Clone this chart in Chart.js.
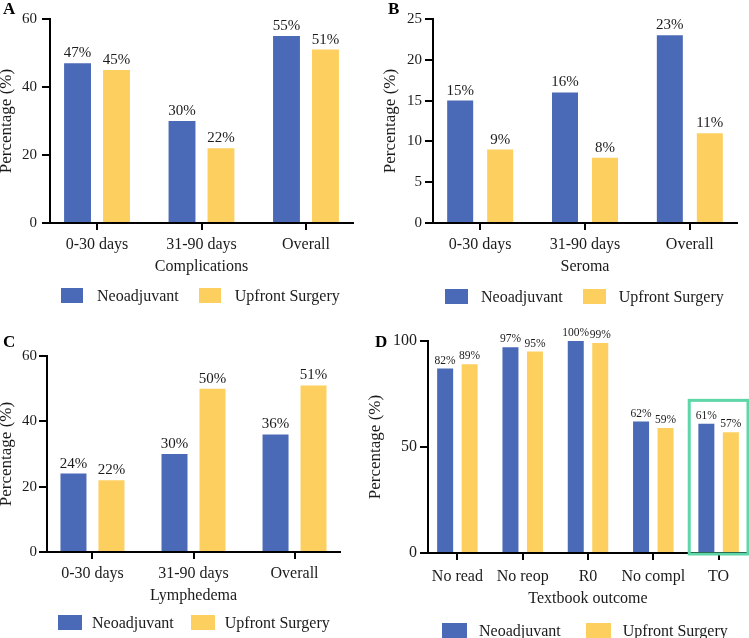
<!DOCTYPE html>
<html>
<head>
<meta charset="utf-8">
<script src="https://cdn.jsdelivr.net/npm/chart.js@4.4.1/dist/chart.umd.min.js"></script>
<style>
  html, body { margin: 0; padding: 0; background: #fff; overflow: hidden; }
  body { width: 749px; height: 638px; position: relative; font-family: 'Liberation Serif', serif; color: #1b1b1b; }
  canvas { position: absolute; }
  .legend { position: absolute; display: flex; align-items: center; height: 15px; font-size: 16px; line-height: 15px; white-space: nowrap; }
  .legend span.box { display: inline-block; height: 15px; }
</style>
</head>
<body>
<canvas id="chartA" width="375" height="320" style="left:0;top:0"></canvas>
<canvas id="chartB" width="374" height="320" style="left:375px;top:0"></canvas>
<canvas id="chartC" width="360" height="318" style="left:0;top:320px"></canvas>
<canvas id="chartD" width="389" height="318" style="left:360px;top:320px"></canvas>
<div class="legend" id="legA" style="left:61px;top:288px"></div>
<div class="legend" id="legB" style="left:445px;top:289px"></div>
<div class="legend" id="legC" style="left:58px;top:615px"></div>
<div class="legend" id="legD" style="left:442px;top:623px"></div>
<script>
// ---- data ----
const seriesNames = ['Neoadjuvant', 'Upfront Surgery'];
const periodLabels = ['0-30 days', '31-90 days', 'Overall'];

const complicationsNeo = [47, 30, 55];
const complicationsUp = [45, 22, 51];

const seromaNeo = [15, 16, 23];
const seromaUp = [9, 8, 11];

const lymphedemaNeo = [24, 30, 36];
const lymphedemaUp = [22, 50, 51];

const outcomeLabels = ['No read', 'No reop', 'R0', 'No compl', 'TO'];
const outcomeNeo = [87, 97, 100, 62, 61];
const outcomeUp = [89, 95, 99, 59, 57];
// printed labels in panel D (first one differs from its bar)
const outcomeNeoText = ['82%', '97%', '100%', '62%', '61%'];
const outcomeUpText = ['89%', '95%', '99%', '59%', '57%'];

const ticksA = [0, 20, 40, 60];
const ticksB = [0, 5, 10, 15, 20, 25];
const ticksC = [0, 20, 40, 60];
const ticksD = [0, 50, 100];

const blue = '#4a69b6';
const yellow = '#fdcf5f';
const ink = '#1b1b1b';

Chart.defaults.font.family = "'Liberation Serif', serif";
Chart.defaults.color = ink;

// value text on top of each bar
const barText = {
  id: 'barText',
  afterDatasetsDraw(chart, args, opts) {
    const ctx = chart.ctx;
    ctx.save();
    ctx.font = opts.size + "px 'Liberation Serif'";
    ctx.fillStyle = ink;
    ctx.textAlign = 'center';
    ctx.textBaseline = 'alphabetic';
    chart.data.datasets.forEach((ds, i) => {
      chart.getDatasetMeta(i).data.forEach((bar, j) => {
        const txt = ds.text ? ds.text[j] : ds.data[j] + '%';
        ctx.fillText(txt, bar.x, bar.y - opts.gap);
      });
    });
    ctx.restore();
  }
};

// panel letter
const tag = {
  id: 'tag',
  afterDraw(chart, args, opts) {
    const ctx = chart.ctx;
    ctx.save();
    ctx.font = "bold 17px 'Liberation Serif'";
    ctx.fillStyle = '#000';
    ctx.textBaseline = 'alphabetic';
    ctx.fillText(opts.text, opts.x, opts.y);
    ctx.restore();
  }
};

// green frame round one category (panel D)
const frame = {
  id: 'frame',
  afterDatasetsDraw(chart, args, opts) {
    const xs = chart.scales.x, ys = chart.scales.y;
    const cx = xs.getPixelForValue(opts.index);
    const half = (cx - xs.getPixelForValue(opts.index - 1)) * opts.width / 2;
    const top = ys.getPixelForValue(opts.top);
    const bottom = ys.getPixelForValue(0) + 1;
    const ctx = chart.ctx;
    ctx.save();
    ctx.strokeStyle = '#5dd6a8';
    ctx.lineWidth = 3;
    ctx.strokeRect(cx - half, top, half * 2, bottom - top);
    ctx.restore();
  }
};

function makePanel(id, p) {
  const edge = 0.45;
  return new Chart(document.getElementById(id), {
    type: 'bar',
    data: {
      labels: p.labels,
      datasets: [
        { label: seriesNames[0], data: p.neo, text: p.neoText, backgroundColor: blue,
          categoryPercentage: p.cat, barPercentage: p.bar },
        { label: seriesNames[1], data: p.up, text: p.upText, backgroundColor: yellow,
          categoryPercentage: p.cat, barPercentage: p.bar }
      ]
    },
    options: {
      responsive: false,
      animation: false,
      layout: { padding: { left: 0, right: p.padRight, top: p.padTop, bottom: p.padBottom } },
      plugins: {
        legend: { display: false },
        tooltip: { enabled: false },
        barText: { size: p.textSize, gap: p.textGap },
        tag: { text: p.tag, x: p.tagX, y: p.tagY },
        frame: p.frame || false
      },
      scales: {
        x: {
          grid: { drawOnChartArea: false, offset: false, tickLength: 7, color: '#000', lineWidth: 2 },
          border: { color: '#000', width: 2 },
          ticks: { font: { size: 16 }, padding: p.xPad, maxRotation: 0, minRotation: 0, autoSkip: false },
          title: { display: true, text: p.xTitle, font: { size: 16 }, padding: { top: 0, bottom: 1.4 } },
          afterBuildTicks: s => {
            s._startValue = -edge;
            s._valueRange = s.ticks.length - 1 + 2 * edge;
          },
          afterFit: s => { s.height = p.xHeight; }
        },
        y: {
          min: 0,
          max: p.yTicks[p.yTicks.length - 1],
          afterBuildTicks: s => { s.ticks = p.yTicks.map(v => ({ value: v })); },
          grid: { drawOnChartArea: false, tickLength: 8, color: '#000', lineWidth: 2 },
          border: { color: '#000', width: 2 },
          ticks: { font: { size: p.yFont }, padding: p.yPad },
          title: { display: true, text: 'Percentage (%)', font: { size: 17, lineHeight: 1 },
                   padding: { top: p.yTitlePad, bottom: 0 } },
          afterFit: s => { s.width = p.yWidth; }
        }
      }
    },
    plugins: [barText, tag, frame]
  });
}

function htmlLegend(chart, id, boxW, textGap, itemGap) {
  const el = document.getElementById(id);
  chart.data.datasets.forEach((ds, i) => {
    const box = document.createElement('span');
    box.className = 'box';
    box.style.width = boxW + 'px';
    box.style.background = ds.backgroundColor;
    const txt = document.createElement('span');
    txt.textContent = ds.label;
    txt.style.marginLeft = textGap + 'px';
    if (i < chart.data.datasets.length - 1) txt.style.marginRight = itemGap + 'px';
    el.appendChild(box);
    el.appendChild(txt);
  });
}

const chartA = makePanel('chartA', {
  labels: periodLabels, neo: complicationsNeo, up: complicationsUp, yTicks: ticksA,
  xTitle: 'Complications', tag: 'A', tagX: 3, tagY: 14,
  cat: 0.746, bar: 0.69, padTop: 19, padRight: 22, padBottom: 42, xHeight: 55, xPad: 5.4,
  yWidth: 50, yPad: 5, yFont: 15, yTitlePad: -1.5, textSize: 15, textGap: 6
});
const chartB = makePanel('chartB', {
  labels: periodLabels, neo: seromaNeo, up: seromaUp, yTicks: ticksB,
  xTitle: 'Seroma', tag: 'B', tagX: 13, tagY: 14,
  cat: 0.763, bar: 0.65, padTop: 19, padRight: 12, padBottom: 42, xHeight: 55, xPad: 5.4,
  yWidth: 58, yPad: 3, yFont: 15, yTitlePad: 7.5, textSize: 15, textGap: 6
});
const chartC = makePanel('chartC', {
  labels: periodLabels, neo: lymphedemaNeo, up: lymphedemaUp, yTicks: ticksC,
  xTitle: 'Lymphedema', tag: 'C', tagX: 3, tagY: 27,
  cat: 0.752, bar: 0.684, padTop: 36, padRight: 20, padBottom: 31, xHeight: 55, xPad: 5.4,
  yWidth: 47, yPad: 2, yFont: 15, yTitlePad: -1.5, textSize: 15, textGap: 6
});
const chartD = makePanel('chartD', {
  labels: outcomeLabels, neo: outcomeNeo, up: outcomeUp,
  neoText: outcomeNeoText, upText: outcomeUpText, yTicks: ticksD,
  xTitle: 'Textbook outcome', tag: 'D', tagX: 15, tagY: 27,
  cat: 0.75, bar: 0.653, padTop: 21, padRight: 1, padBottom: 28, xHeight: 57, xPad: 7.4,
  yWidth: 68, yPad: 3, yFont: 16, yTitlePad: 7.5, textSize: 11.5, textGap: 5,
  frame: { index: 4, width: 0.9, top: 72 }
});

htmlLegend(chartA, 'legA', 22, 14, 20);
htmlLegend(chartB, 'legB', 23, 13, 20);
htmlLegend(chartC, 'legC', 24, 10, 17);
htmlLegend(chartD, 'legD', 25, 12, 25);
</script>
</body>
</html>
